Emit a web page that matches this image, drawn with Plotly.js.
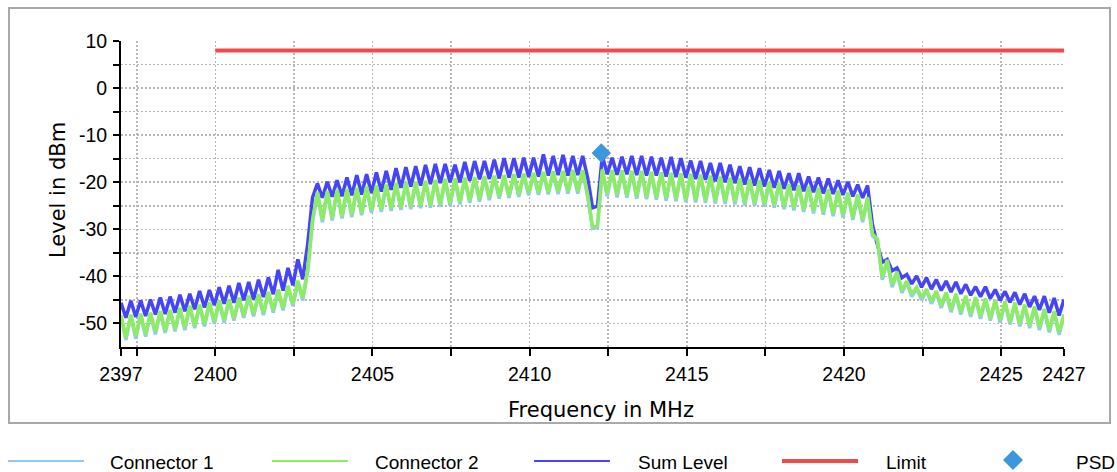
<!DOCTYPE html>
<html>
<head>
<meta charset="utf-8">
<script src="https://cdn.plot.ly/plotly-3.0.1.min.js"></script>
<style>
  html, body { margin: 0; padding: 0; background: #ffffff; }
  #chart { width: 1117px; height: 472px; }
</style>
</head>
<body>
<div id="chart"></div>
<script>
// ---------------- DATA ----------------
// sweep: start frequency and point spacing (MHz)
const freqStart = 2397;
const freqStep = 0.15625;

// Sum Level (dBm), one value per sweep point
const sumLevel = [
  -45.6,-48.8,-45.2,-48.6,-45.1,-48.4,-44.9,-48.1,-44.5,-48.0,
  -44.3,-47.7,-43.9,-47.4,-43.7,-47.0,-43.1,-46.6,-42.9,-46.1,
  -42.3,-45.8,-42.0,-45.6,-41.4,-45.1,-41.2,-44.9,-40.7,-44.4,
  -40.2,-43.8,-38.6,-43.0,-38.2,-41.9,-36.4,-40.6,-33.2,-23.2,
  -20.3,-23.3,-19.9,-23.1,-19.6,-23.0,-19.0,-22.8,-18.5,-22.6,
  -18.3,-22.3,-17.9,-22.0,-17.6,-21.6,-17.0,-21.2,-16.8,-20.9,
  -16.6,-20.7,-16.3,-20.4,-16.1,-20.2,-16.1,-20.0,-16.3,-20.0,
  -15.7,-19.7,-15.5,-19.4,-15.5,-19.3,-15.2,-19.2,-14.9,-19.0,
  -14.9,-19.0,-14.8,-18.9,-14.8,-18.8,-14.1,-18.6,-14.4,-18.5,
  -14.2,-18.6,-14.4,-18.5,-14.4,-19.0,-25.4,-25.1,-14.4,-18.3,
  -14.8,-18.4,-14.6,-18.3,-14.4,-18.5,-14.4,-18.6,-14.6,-18.6,
  -14.8,-18.8,-14.6,-18.9,-14.9,-19.0,-15.4,-19.3,-15.5,-19.5,
  -15.9,-19.8,-15.9,-20.0,-16.3,-20.2,-16.6,-20.5,-16.8,-20.7,
  -17.0,-20.9,-17.4,-21.2,-17.6,-21.4,-18.1,-21.7,-18.1,-21.9,
  -18.8,-22.1,-19.0,-22.4,-19.2,-22.5,-19.6,-22.7,-19.9,-23.0,
  -20.5,-23.3,-20.7,-29.0,-33.2,-37.0,-36.4,-38.8,-38.2,-40.3,
  -39.6,-41.6,-39.9,-42.3,-40.3,-42.7,-40.7,-43.0,-41.0,-43.3,
  -41.2,-43.7,-41.7,-44.0,-42.2,-44.3,-42.2,-44.7,-42.8,-45.1,
  -43.2,-45.5,-43.4,-46.0,-43.7,-46.5,-44.2,-47.1,-44.2,-47.7,
  -44.6,-48.3,-44.9
];

// Connector 1 (dBm)
const connector1 = [
  -48.6,-53.5,-48.3,-53.2,-48.2,-52.8,-47.9,-52.3,-47.7,-52.0,
  -47.4,-51.7,-47.0,-51.4,-46.5,-51.0,-46.2,-50.6,-45.8,-50.1,
  -45.4,-49.8,-45.1,-49.4,-44.8,-48.8,-44.4,-48.5,-44.0,-48.2,
  -43.6,-47.7,-43.1,-47.2,-42.3,-46.3,-41.2,-45.1,-38.9,-28.4,
  -22.4,-28.5,-22.2,-28.1,-21.9,-27.7,-21.7,-27.4,-21.5,-27.0,
  -21.2,-26.5,-21.0,-26.3,-20.8,-26.1,-20.5,-25.9,-20.3,-25.7,
  -20.2,-25.5,-20.0,-25.4,-19.8,-25.2,-19.6,-25.0,-19.5,-24.7,
  -19.3,-24.4,-19.2,-24.1,-19.0,-23.8,-18.9,-23.5,-18.8,-23.3,
  -18.6,-23.1,-18.5,-22.8,-18.3,-22.7,-18.1,-22.6,-18.0,-22.5,
  -17.9,-22.4,-17.7,-22.4,-17.7,-23.0,-29.8,-29.6,-17.6,-23.0,
  -17.7,-23.2,-17.8,-23.3,-17.9,-23.5,-17.9,-23.6,-18.1,-23.7,
  -18.2,-23.9,-18.3,-24.0,-18.4,-24.2,-18.5,-24.3,-18.7,-24.4,
  -18.9,-24.5,-19.1,-24.6,-19.3,-24.7,-19.5,-24.9,-19.7,-25.0,
  -19.9,-25.2,-20.2,-25.4,-20.4,-25.7,-20.7,-26.0,-20.9,-26.3,
  -21.2,-26.6,-21.5,-26.9,-21.8,-27.2,-22.1,-27.5,-22.5,-28.0,
  -22.9,-28.5,-23.5,-31.4,-32.3,-40.7,-36.8,-42.3,-39.3,-43.5,
  -41.3,-44.3,-42.6,-45.0,-43.0,-45.8,-43.4,-46.7,-43.7,-47.6,
  -44.0,-48.1,-44.4,-48.6,-44.7,-49.0,-45.0,-49.4,-45.3,-49.8,
  -45.6,-50.2,-45.9,-50.6,-46.3,-51.0,-46.7,-51.4,-47.2,-51.9,
  -47.7,-52.4,-48.4
];

// Connector 2 (dBm)
const connector2 = [
  -48.3,-53.0,-48.1,-52.7,-47.9,-52.3,-47.7,-51.7,-47.4,-51.5,
  -47.1,-51.2,-46.7,-50.9,-46.2,-50.5,-46.0,-50.1,-45.5,-49.6,
  -45.1,-49.3,-44.9,-48.9,-44.5,-48.3,-44.1,-48.0,-43.8,-47.7,
  -43.3,-47.2,-42.8,-46.7,-42.0,-45.8,-40.9,-44.6,-38.6,-28.0,
  -22.1,-28.0,-21.9,-27.6,-21.6,-27.2,-21.4,-26.9,-21.2,-26.5,
  -20.9,-26.0,-20.7,-25.8,-20.5,-25.6,-20.2,-25.4,-20.0,-25.2,
  -19.9,-25.0,-19.7,-24.9,-19.5,-24.7,-19.3,-24.5,-19.2,-24.2,
  -19.0,-23.9,-18.9,-23.6,-18.7,-23.3,-18.6,-23.0,-18.5,-22.8,
  -18.3,-22.6,-18.2,-22.3,-18.0,-22.2,-17.8,-22.1,-17.7,-22.0,
  -17.6,-21.9,-17.4,-21.9,-17.4,-22.5,-29.5,-29.2,-17.3,-22.5,
  -17.4,-22.7,-17.5,-22.8,-17.6,-23.0,-17.6,-23.1,-17.8,-23.2,
  -17.9,-23.4,-18.0,-23.5,-18.1,-23.7,-18.2,-23.8,-18.4,-23.9,
  -18.6,-24.0,-18.8,-24.1,-19.0,-24.2,-19.2,-24.4,-19.4,-24.5,
  -19.6,-24.7,-19.9,-24.9,-20.1,-25.2,-20.4,-25.5,-20.6,-25.8,
  -20.9,-26.1,-21.2,-26.4,-21.5,-26.7,-21.8,-27.0,-22.2,-27.5,
  -22.6,-28.0,-23.2,-31.0,-32.0,-40.2,-36.5,-41.8,-39.0,-43.0,
  -41.0,-43.8,-42.3,-44.5,-42.7,-45.3,-43.1,-46.2,-43.4,-47.1,
  -43.7,-47.6,-44.1,-48.1,-44.4,-48.5,-44.7,-48.9,-45.0,-49.3,
  -45.3,-49.7,-45.6,-50.1,-46.0,-50.5,-46.4,-50.9,-46.9,-51.4,
  -47.4,-51.9,-48.1
];

// Limit line
const limitFreq = [2400, 2427];
const limitLevel = [8, 8];

// PSD marker
const psdFreq = [2412.28];
const psdLevel = [-13.8];

// Axis ticks
const xRange = [2397, 2427];
const yRange = [-55, 10];
const xTickVals = [2397, 2400, 2405, 2410, 2415, 2420, 2425, 2427];
const xTickText = ['2397', '2400', '2405', '2410', '2415', '2420', '2425', '2427'];
const xMinorVals = [2397.5, 2402.5, 2407.5, 2412.5, 2417.5, 2422.5];
const yTickVals = [-50, -40, -30, -20, -10, 0, 10];
const yTickText = ['-50', '-40', '-30', '-20', '-10', '0', '10'];
const yMinorVals = [-45, -35, -25, -15, -5, 5];

const legendNames = ['Connector 1', 'Connector 2', 'Sum Level', 'Limit', 'PSD'];

// ---------------- STYLE / LAYOUT ----------------
const colConn1 = '#8fc9f7';
const colConn2 = '#8ced62';
const colSum = '#4444f8';
const colLimit = '#f24a4a';
const colPsd = '#3b98dc';

const W = 1117, H = 472, ML = 121, MR = 53, MT = 41, MB = 125;
const PW = W - ML - MR, PH = H - MT - MB;
const px = x => (x - ML) / PW;
const py = y => (H - MB - y) / PH;

const labelFamily = '"Liberation Sans", Arial, sans-serif';
const tickFont = { family: labelFamily, size: 19.5, color: '#000' };
const titleFont = { family: '"DejaVu Sans", Verdana, sans-serif', size: 21, color: '#000' };
const legFont = { family: labelFamily, size: 19, color: '#000' };

const traces = [
  { x0: freqStart, dx: freqStep, y: sumLevel, type: 'scatter', mode: 'lines', name: legendNames[2],
    line: { color: colSum, width: 3.5 }, showlegend: false, hoverinfo: 'skip' },
  { x0: freqStart, dx: freqStep, y: connector1, type: 'scatter', mode: 'lines', name: legendNames[0],
    line: { color: colConn1, width: 3.5 }, showlegend: false, hoverinfo: 'skip' },
  { x0: freqStart, dx: freqStep, y: connector2, type: 'scatter', mode: 'lines', name: legendNames[1],
    line: { color: colConn2, width: 3.5 }, showlegend: false, hoverinfo: 'skip' },
  { x: limitFreq, y: limitLevel, type: 'scatter', mode: 'lines', name: legendNames[3],
    line: { color: colLimit, width: 4 }, showlegend: false, hoverinfo: 'skip' },
  { x: psdFreq, y: psdLevel, type: 'scatter', mode: 'markers', name: legendNames[4],
    marker: { symbol: 'diamond', size: 15, color: colPsd, line: { width: 0 } }, showlegend: false, hoverinfo: 'skip' }
];

const gridStyle = { gridcolor: '#b8b8b8', griddash: '2px,2px', gridwidth: 1.6 };

// legend drawn as shapes + annotations
const legY = 461;
const legItems = [
  { x0: 8, x1: 84, tx: 108, color: colConn1, w: 2 },
  { x0: 272, x1: 348, tx: 373, color: colConn2, w: 2 },
  { x0: 534, x1: 610, tx: 636, color: colSum, w: 2 },
  { x0: 782, x1: 858, tx: 884, color: colLimit, w: 4 }
];
const shapes = [
  { type: 'rect', xref: 'paper', yref: 'paper', x0: px(9), x1: px(1110), y0: py(423), y1: py(8),
    line: { color: '#a9a9a9', width: 2 }, fillcolor: 'rgba(0,0,0,0)', layer: 'below' }
];
const annotations = [];
legItems.forEach((it, i) => {
  shapes.push({ type: 'line', xref: 'paper', yref: 'paper', x0: px(it.x0), x1: px(it.x1), y0: py(legY), y1: py(legY),
    line: { color: it.color, width: it.w } });
  annotations.push({ xref: 'paper', yref: 'paper', x: px(it.tx), y: py(legY + 1), xanchor: 'left', yanchor: 'middle',
    text: legendNames[i], showarrow: false, font: legFont });
});
// PSD legend diamond + label
const dcx = 1013, dcy = 460, dr = 10;
shapes.push({ type: 'path', xref: 'paper', yref: 'paper',
  path: `M ${px(dcx - dr)} ${py(dcy)} L ${px(dcx)} ${py(dcy - dr)} L ${px(dcx + dr)} ${py(dcy)} L ${px(dcx)} ${py(dcy + dr)} Z`,
  fillcolor: colPsd, line: { width: 0 } });
annotations.push({ xref: 'paper', yref: 'paper', x: px(1074), y: py(legY + 1), xanchor: 'left', yanchor: 'middle',
  text: legendNames[4], showarrow: false, font: legFont });

// axis titles
annotations.push({ xref: 'paper', yref: 'paper', x: px(601), y: py(410), xanchor: 'center', yanchor: 'middle',
  text: 'Frequency in MHz', showarrow: false, font: titleFont });
annotations.push({ xref: 'paper', yref: 'paper', x: px(58), y: py(190), xanchor: 'center', yanchor: 'middle',
  text: 'Level in dBm', textangle: -90, showarrow: false, font: titleFont });

const layout = {
  width: W, height: H,
  margin: { l: ML, r: MR, t: MT, b: MB, pad: 0 },
  paper_bgcolor: '#ffffff', plot_bgcolor: '#ffffff',
  showlegend: false,
  xaxis: Object.assign({
    range: xRange, fixedrange: true, showline: true, linecolor: '#000', linewidth: 2,
    tickmode: 'array', tickvals: xTickVals, ticktext: xTickText,
    ticks: 'outside', ticklen: 7, tickwidth: 2, tickcolor: '#000',
    tickfont: tickFont, zeroline: false, showgrid: true, ticklabelstandoff: 2,
    minor: { tickmode: 'array', tickvals: xMinorVals, ticks: 'outside', ticklen: 7, tickwidth: 2, tickcolor: '#000',
             showgrid: true, gridcolor: '#b8b8b8', griddash: '2px,2px', gridwidth: 1.6 }
  }, gridStyle),
  yaxis: Object.assign({
    range: yRange, fixedrange: true, showline: true, linecolor: '#000', linewidth: 2,
    tickmode: 'array', tickvals: yTickVals, ticktext: yTickText,
    ticks: 'outside', ticklen: 6, tickwidth: 2, tickcolor: '#000',
    tickfont: tickFont, zeroline: false, showgrid: true, ticklabelstandoff: 2,
    minor: { tickmode: 'array', tickvals: yMinorVals, ticks: 'outside', ticklen: 6, tickwidth: 2, tickcolor: '#000',
             showgrid: true, gridcolor: '#b8b8b8', griddash: '2px,2px', gridwidth: 1.6 }
  }, gridStyle),
  xaxis2: {
    overlaying: 'x', anchor: 'y', side: 'bottom', range: xRange, fixedrange: true,
    tickmode: 'array', tickvals: xTickVals.concat(xMinorVals), ticks: 'inside', ticklen: 6, tickwidth: 2, tickcolor: '#000',
    showticklabels: false, showgrid: false, zeroline: false, showline: false
  },
  yaxis2: {
    overlaying: 'y', anchor: 'x', side: 'left', range: yRange, fixedrange: true,
    tickmode: 'array', tickvals: yTickVals.concat(yMinorVals), ticks: 'inside', ticklen: 7, tickwidth: 2, tickcolor: '#000',
    showticklabels: false, showgrid: false, zeroline: false, showline: false
  },
  shapes: shapes,
  annotations: annotations
};

Plotly.newPlot('chart', traces, layout, { staticPlot: true, displayModeBar: false });
</script>
</body>
</html>
